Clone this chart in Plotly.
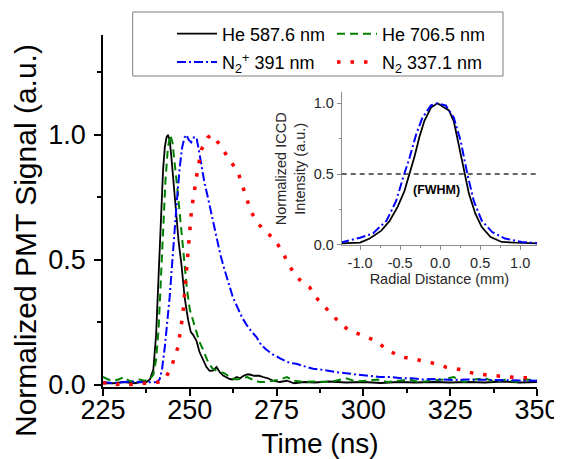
import plotly.graph_objects as go

# ---------------- data ----------------
he587_t = [225, 228, 231, 234, 236, 237.5, 238.5, 239.5, 240.3, 240.8, 241.3, 241.8, 242.3, 242.8,
           243.3, 243.7, 244.2, 244.7, 245.4, 246.1, 246.8, 247.6, 248.5, 249.5, 250.3, 250.9, 251.9,
           252.8, 253.8, 254.8, 255.7, 256.7, 257.7, 258.6, 259.6, 260.5, 261.5, 262.4, 263.5, 264.5,
           265.5, 266.5, 267.3, 268.5, 270, 271.1, 272.5, 274, 275.9, 278, 280, 283, 286, 290, 295,
           300, 305, 310, 315, 320, 325, 330, 335, 340, 345, 350]
he587_v = [0.005, 0.005, 0.01, 0.005, 0.01, 0.01, 0.02, 0.06, 0.2, 0.38, 0.56, 0.74, 0.86, 0.95,
           0.99, 1.0, 0.98, 0.91, 0.8, 0.67, 0.57, 0.48, 0.35, 0.26, 0.21, 0.2, 0.176,
           0.13, 0.10, 0.07, 0.055, 0.056, 0.07, 0.05, 0.036, 0.03, 0.022, 0.02, 0.03, 0.025,
           0.035, 0.04, 0.04, 0.035, 0.035, 0.03, 0.025, 0.015, 0.01, 0.015, 0.005, 0.01, 0.008, 0.012, 0.008,
           0.01, 0.006, 0.01, 0.008, 0.01, 0.008, 0.01, 0.008, 0.012, 0.008, 0.01]

he706_t = [225, 226.5, 228, 229.5, 231, 232.5, 234, 235.5, 237, 238.5, 239.5, 240.3, 241, 241.7,
           242.3, 243, 243.7, 244.4, 245, 245.6, 246.3, 247, 247.8, 248.5, 249.2, 250, 251, 251.8,
           252.8, 253.8, 254.6, 255.4, 256.5, 257.7, 259, 260, 261, 262, 263.5, 265, 266.5, 268,
           270, 272, 274, 276, 278, 280, 283, 286, 289, 292, 295, 298, 301, 304, 307, 310, 313,
           316, 320, 323, 326, 329, 332, 335, 338, 341, 344, 347, 350]
he706_v = [0.03, 0.02, 0.015, 0.02, 0.03, 0.015, 0.01, 0.02, 0.015, 0.02, 0.04, 0.1, 0.22, 0.42,
           0.62, 0.82, 0.95, 1.0, 0.97, 0.9, 0.8, 0.7, 0.58, 0.47, 0.38, 0.3, 0.25, 0.21,
           0.17, 0.14, 0.11, 0.085, 0.065, 0.055, 0.05, 0.045, 0.035, 0.025, 0.02, 0.025, 0.03, 0.02,
           0.01, 0.01, 0.015, 0.02, 0.03, 0.015, 0.01, 0.012, 0.01, 0.015, 0.025, 0.012, 0.015, 0.02, 0.01, 0.015, 0.02,
           0.01, 0.015, 0.02, 0.03, 0.01, 0.02, 0.025, 0.01, 0.02, 0.01, 0.02, 0.015]

n2p_t = [225, 228, 231, 234, 237, 239, 240.5, 241.3, 242, 242.8, 243.5, 244.2, 245, 245.6, 246.3,
         247.1, 247.8, 248.5, 249, 249.7, 250.4, 251.2, 251.9, 252.6, 253.3, 254.2, 255.2, 256.4,
         257.7, 258.8, 260, 261.2, 262.4, 263.7, 265, 266.3, 267.6, 269.2, 270.5, 272, 274, 276,
         278, 279.5, 280.7, 282.5, 284, 285.5, 287.5, 289.5, 291.2, 293, 295, 298, 301, 304.7, 308,
         311, 314, 317, 320, 323, 326, 330, 335, 340, 345, 350]
n2p_v = [0.01, 0.005, 0.01, 0.012, 0.008, 0.01, 0.01, 0.02, 0.06, 0.15, 0.25, 0.35, 0.5, 0.62, 0.74,
         0.87, 0.95, 0.99, 1.0, 0.98, 0.97, 0.99, 0.99, 0.94, 0.88, 0.81, 0.75, 0.67,
         0.59, 0.52, 0.46, 0.40, 0.35, 0.31, 0.27, 0.24, 0.215, 0.19, 0.16, 0.14, 0.12, 0.105,
         0.09, 0.085, 0.083, 0.075, 0.068, 0.063, 0.06, 0.055, 0.05, 0.048, 0.045, 0.04, 0.036, 0.03, 0.03,
         0.025, 0.025, 0.02, 0.022, 0.02, 0.018, 0.02, 0.018, 0.017, 0.016, 0.015]

n2_t = [225, 227, 229, 231, 233, 235, 237, 239, 241, 242.8, 244.7, 246.6, 248, 249, 250, 250.5,
        251.9, 253.3, 255.2, 256.5, 258.1, 261, 263.9, 265.3, 267.7, 269.5, 271.1, 273.8, 276.4,
        278.3, 280.7, 284.5, 286.9, 289.6, 292.3, 295.5, 299.4, 303.5, 307.1, 311.2, 315.3, 319.6,
        323.7, 327.9, 332.1, 336.4, 340.4, 344.7, 348.8, 350]
n2_v = [0.005, 0.01, 0.0, 0.005, 0.0, 0.005, 0.005, 0.005, 0.01, 0.02, 0.07, 0.15, 0.28, 0.45, 0.6, 0.70,
        0.83, 0.94, 0.99, 1.0, 0.97, 0.91, 0.85, 0.79, 0.69, 0.65, 0.62, 0.59, 0.54,
        0.485, 0.43, 0.39, 0.34, 0.30, 0.26, 0.22, 0.20, 0.176, 0.136, 0.11, 0.10, 0.087,
        0.07, 0.06, 0.043, 0.039, 0.032, 0.027, 0.027, 0.026]

# inset: radial profiles
he_r = [-1.25, -1.21, -1.0, -0.88, -0.735, -0.63, -0.53, -0.446, -0.384, -0.322, -0.26, -0.198,
        -0.115, -0.033, 0.05, 0.11, 0.17, 0.235, 0.30, 0.36, 0.44, 0.52, 0.63, 0.77, 0.94, 1.19, 1.25]
he_i = [0.01, 0.01, 0.015, 0.044, 0.10, 0.17, 0.27, 0.38, 0.50, 0.62, 0.76, 0.875,
        0.97, 1.0, 0.97, 0.95, 0.875, 0.69, 0.52, 0.36, 0.22, 0.125, 0.055, 0.02, 0.015, 0.01, 0.01]
n2p_r = [-1.25, -1.21, -1.0, -0.84, -0.67, -0.55, -0.46, -0.38, -0.30, -0.22, -0.115, -0.033,
         0.07, 0.17, 0.256, 0.34, 0.42, 0.52, 0.65, 0.81, 1.02, 1.19, 1.25]
n2p_i = [0.02, 0.02, 0.05, 0.08, 0.17, 0.31, 0.48, 0.62, 0.78, 0.90, 0.985, 1.0,
         0.985, 0.90, 0.735, 0.50, 0.31, 0.17, 0.09, 0.044, 0.02, 0.01, 0.01]
fwhm_level = 0.5

x_ticks = [225, 250, 275, 300, 325, 350]
y_ticks = [0.0, 0.5, 1.0]
inset_x_ticks = [-1.0, -0.5, 0.0, 0.5, 1.0]

FONT = "Liberation Sans, Arial, sans-serif"

# figure geometry (the page adds an 8px body margin)
W, H = 554, 451
ML, MR, MT, MB = 95, 25, 27, 72
PW, PH = W - ML - MR, H - MT - MB


def px_x(x):  # figure px -> paper
    return (x - ML) / PW


def px_y(y):
    return (H - MB - y) / PH


fig = go.Figure()

fig.add_trace(go.Scatter(x=he587_t, y=he587_v, mode="lines", name="He 587.6 nm",
                         legendgroup="a", line=dict(color="black", width=1.8)))
fig.add_trace(go.Scatter(x=he706_t, y=he706_v, mode="lines", name="He 706.5 nm",
                         legendgroup="b", line=dict(color="#008000", width=2, dash="8px,5px")))
fig.add_trace(go.Scatter(x=n2p_t, y=n2p_v, mode="lines", name="N<sub>2</sub><sup>+</sup> 391 nm",
                         legendgroup="c", line=dict(color="#0000ff", width=2, dash="9px,3px,2px,3px")))
fig.add_trace(go.Scatter(x=n2_t, y=n2_v, mode="lines", name="N<sub>2</sub> 337.1 nm",
                         legendgroup="d", line=dict(color="#ff0000", width=3.5, dash="3.5px,10px")))

# inset
fig.add_trace(go.Scatter(x=he_r, y=he_i, mode="lines", xaxis="x2", yaxis="y2", showlegend=False,
                         line=dict(color="black", width=1.8)))
fig.add_trace(go.Scatter(x=n2p_r, y=n2p_i, mode="lines", xaxis="x2", yaxis="y2", showlegend=False,
                         line=dict(color="#0000ff", width=2, dash="9px,3px,2px,3px")))

fig.add_shape(type="line", xref="x2 domain", yref="y2", x0=0, x1=1, y0=fwhm_level, y1=fwhm_level,
              line=dict(color="#333333", width=1.5, dash="5px,4px"))

# legend frame
fig.add_shape(type="rect", xref="paper", yref="paper",
              x0=px_x(124.7), x1=px_x(495), y0=px_y(68), y1=px_y(4),
              line=dict(color="#7f7f7f", width=1), fillcolor="white", layer="below")

fig.add_annotation(x=-0.04, y=0.385, xref="x2", yref="y2", text="<b>(FWHM)</b>", showarrow=False,
                   font=dict(family=FONT, size=12.5, color="black"))

# main y-axis title
fig.add_annotation(x=px_x(17), y=px_y(233), xref="paper", yref="paper",
                   text="Normalized PMT Signal (a.u.)", textangle=-90, showarrow=False,
                   xanchor="center", yanchor="middle",
                   font=dict(family=FONT, size=30, color="black"))

axis_common = dict(showgrid=False, zeroline=False, showline=True, ticks="outside", mirror=False)

fig.update_layout(
    width=W, height=H,
    margin=dict(l=ML, r=MR, t=MT, b=MB, autoexpand=False),
    paper_bgcolor="white", plot_bgcolor="rgba(0,0,0,0)",
    font=dict(family=FONT, color="black"),
    xaxis=dict(**axis_common, range=[225, 350], tickvals=x_ticks, ticktext=[str(v) for v in x_ticks],
               linecolor="black", linewidth=1.5, tickwidth=1.5, ticklen=7, tickcolor="black",
               minor=dict(dtick=12.5, ticklen=4, tickwidth=1.5, tickcolor="black", ticks="outside", tick0=225),
               ticklabelstandoff=-9,
               tickfont=dict(size=27, family=FONT), title=dict(text="Time (ns)", font=dict(size=28, family=FONT), standoff=10)),
    yaxis=dict(**axis_common, range=[-0.01, 1.4], tickvals=y_ticks, ticktext=["0.0", "0.5", "1.0"],
               linecolor="black", linewidth=1.5, tickwidth=1.5, ticklen=7, tickcolor="black",
               minor=dict(dtick=0.25, ticklen=4, tickwidth=1.5, tickcolor="black", ticks="outside", tick0=0),
               ticklabelstandoff=3,
               tickfont=dict(size=27, family=FONT)),
    xaxis2=dict(**axis_common, domain=[0.55, 1.0], anchor="y2", range=[-1.23, 1.21],
                tickvals=inset_x_ticks, ticktext=["-1.0", "-0.5", "0.0", "0.5", "1.0"],
                linecolor="#8c8c8c", linewidth=1, tickcolor="#8c8c8c", ticklen=4,
                minor=dict(dtick=0.25, ticklen=2, tickcolor="#8c8c8c", ticks="outside", tick0=0),
                tickfont=dict(size=14.5, family=FONT, color="#262626"),
                title=dict(text="Radial Distance (mm)", font=dict(size=14.5, family=FONT, color="#262626"), standoff=2)),
    yaxis2=dict(**axis_common, domain=[0.402, 0.838], anchor="x2", range=[-0.005, 1.08],
                tickvals=y_ticks, ticktext=["0.0", "0.5", "1.0"],
                linecolor="#8c8c8c", linewidth=1, tickcolor="#8c8c8c", ticklen=4,
                minor=dict(dtick=0.25, ticklen=2, tickcolor="#8c8c8c", ticks="outside", tick0=0),
                tickfont=dict(size=14.5, family=FONT, color="#262626"),
                title=dict(text="Normalized ICCD<br>Intensity (a.u.)", font=dict(size=14.5, family=FONT, color="#262626"), standoff=4)),
    showlegend=True,
    legend=dict(orientation="h", x=px_x(164), xanchor="left", y=px_y(7.5), yanchor="top",
                bgcolor="rgba(0,0,0,0)", borderwidth=0, itemwidth=40,
                traceorder="grouped", tracegroupgap=2, entrywidth=105, entrywidthmode="pixels",
                font=dict(size=18, family=FONT, color="black")),
)

fig.write_html("out.html")
